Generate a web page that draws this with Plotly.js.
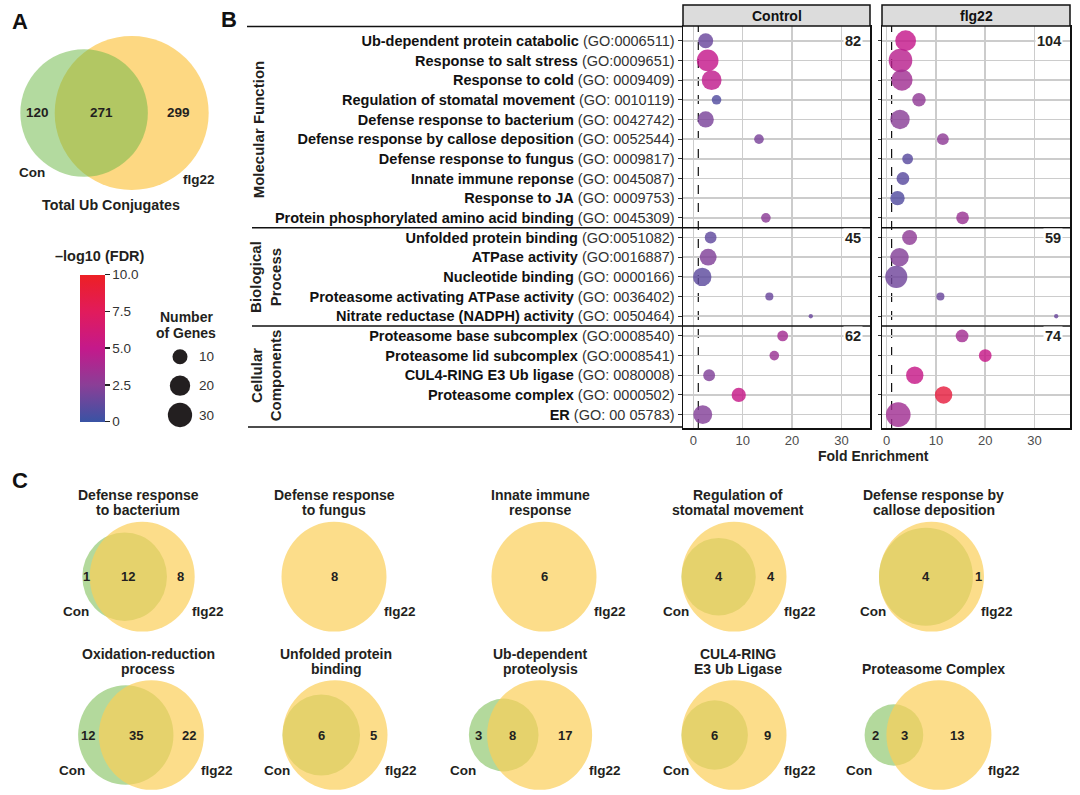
<!DOCTYPE html>
<html><head><meta charset="utf-8">
<script src="https://cdn.plot.ly/plotly-3.0.1.min.js"></script>
<style>html,body{margin:0;padding:0;background:#fff}#chart{width:1080px;height:795px}</style>
</head><body><div id="chart"></div>
<script>
// ================= DATA =================
// Panel B: GO terms (top to bottom)
const goNames = [
  'Ub-dependent protein catabolic','Response to salt stress','Response to cold',
  'Regulation of stomatal movement','Defense response to bacterium',
  'Defense response by callose deposition','Defense response to fungus',
  'Innate immune reponse','Response to JA','Protein phosphorylated amino acid binding',
  'Unfolded protein binding','ATPase activity','Nucleotide binding',
  'Proteasome activating ATPase activity','Nitrate reductase (NADPH) activity',
  'Proteasome base subcomplex','Proteasome lid subcomplex','CUL4-RING E3 Ub ligase',
  'Proteasome complex','ER'];
const goIds = [
  '(GO:0006511)','(GO:0009651)','(GO: 0009409)','(GO: 0010119)','(GO: 0042742)',
  '(GO: 0052544)','(GO: 0009817)','(GO: 0045087)','(GO: 0009753)','(GO: 0045309)',
  '(GO:0051082)','(GO:0016887)','(GO: 0000166)','(GO: 0036402)','(GO: 0050464)',
  '(GO:0008540)','(GO:0008541)','(GO: 0080008)','(GO: 0000502)','(GO: 00 05783)'];
const groupNames = ['Molecular Function','Biological<br>Process','Cellular<br>Components'];
const groupSizes = [10,5,5];
const panelNames = ['Control','flg22'];
// Control
const ctrlFold  = [2.5,2.9,3.7,4.7,2.5,13.3,null,null,null,14.7,3.5,3.0,1.8,15.4,23.8,18.1,16.4,3.2,9.2,1.9];
const ctrlGenes = [10,23,19,4,12,4,null,null,null,4,6,13,16,3,2,5,4,6,9,17];
const ctrlFDR   = [1.5,5,4.8,0.8,2,2,null,null,null,2.6,1.2,2.2,1.1,1.5,1.5,3.6,3.2,2.2,5.2,2.3];
const ctrlTotals = [82,45,62];
// flg22
const flgFold  = [3.85,2.8,3.1,6.55,2.7,11.4,4.25,3.3,2.2,15.4,4.65,2.6,1.95,10.9,34.4,15.3,20,5.7,11.55,2.35];
const flgGenes = [21,28,22,8,18,6,5,7,9,7,10,16,24,3,2,7,7,14,14,31];
const flgFDR   = [5,4.5,3.5,2.8,2.5,2.7,1,1,0.8,3.2,2.7,2.3,1.7,1.5,1.5,3.6,5.2,5.2,8.8,3.5];
const flgTotals = [104,59,74];
const foldThreshold = 1;
const foldTicks = [0,10,20,30];
const fdrTicks = [0,2.5,5,7.5,10];
const fdrTickText = ['0','2.5','5.0','7.5','10.0'];
const geneLegend = [10,20,30];

// Panel A
const vennATitle = 'Total Ub Conjugates';
const vennAConOnly = 120, vennABoth = 271, vennAFlgOnly = 299;

// Panel C
const vennTitles = [
  'Defense response\nto bacterium','Defense response\nto fungus','Innate immune\nresponse',
  'Regulation of\nstomatal movement','Defense response by\ncallose deposition',
  'Oxidation-reduction\nprocess','Unfolded protein\nbinding','Ub-dependent\nproteolysis',
  'CUL4-RING\nE3 Ub Ligase','Proteasome Complex'];
const vennConOnly = [1,0,0,0,0,12,0,3,0,2];
const vennBoth    = [12,0,0,4,4,35,6,8,6,3];
const vennFlgOnly = [8,8,6,4,1,22,5,17,9,13];

// ================= HELPERS / STYLE =================
const W = 1080, H = 795;
const px = x => x / W;
const py = y => 1 - y / H;
const FONT = 'Liberation Sans, Arial, Helvetica, sans-serif';
const INK = '#231f20';
const sizeFn = n => (n == null) ? 0 : 4.3 + 3.78 * Math.sqrt(Math.max(n - 2, 0));
const colorscale = [[0,'#3953a4'],[0.25,'#8a3f97'],[0.5,'#c4198b'],[0.75,'#e11b5c'],[1,'#ed2024']];

const annotations = [];
const shapes = [];
function txt(x, y, text, opt = {}) {
  annotations.push(Object.assign({
    xref:'paper', yref:'paper', x: px(x), y: py(y), text, showarrow:false,
    xanchor:'center', yanchor:'middle',
    font:{family:FONT, size:14, color:INK}
  }, opt));
}

// ================= PANEL B =================
const rowIdx = goNames.map((_, i) => i + 1);
const tickText = goNames.map((n, i) => '<b>' + n + '</b> <span style="color:#333">' + goIds[i] + '</span>');
const yRange = [20.68, 0.25];

const traces = [
  {type:'scatter', mode:'markers', x: ctrlFold, y: rowIdx, xaxis:'x', yaxis:'y',
   marker:{size: ctrlGenes.map(sizeFn), color: ctrlFDR, coloraxis:'coloraxis', opacity:0.82, line:{width:0}},
   hoverinfo:'skip', showlegend:false},
  {type:'scatter', mode:'markers', x: flgFold, y: rowIdx, xaxis:'x2', yaxis:'y2',
   marker:{size: flgGenes.map(sizeFn), color: flgFDR, coloraxis:'coloraxis', opacity:0.82, line:{width:0}},
   hoverinfo:'skip', showlegend:false}
];

const xCommon = {
  tickvals: foldTicks, ticks:'', 
  tickfont:{family:FONT, size:13, color:'#4d4d4d'},
  showgrid:true, gridcolor:'#cccccc', gridwidth:1.5, zeroline:false,
  showline:true, mirror:true, linecolor:'#111', linewidth:1.5, fixedrange:true, automargin:false
};
const yCommon = {
  range: yRange, tickvals: rowIdx, showgrid:true, gridcolor:'#cccccc', gridwidth:1.5,
  zeroline:false, showline:true, mirror:true, linecolor:'#111', linewidth:1.5,
  ticks:'outside', tickcolor:'#333', tickwidth:1, fixedrange:true, automargin:false
};

// dashed threshold lines (drawn between grid and markers)
[['x','y'],['x2','y2']].forEach(([xr, yr]) => {
  shapes.push({type:'line', xref:xr, yref:yr, x0:foldThreshold, x1:foldThreshold,
    y0:yRange[0], y1:yRange[1], line:{color:'#111', width:1.2, dash:'dash'}, layer:'below'});
});
// group separators
let cum = 0;
const bounds = [];
groupSizes.forEach((g, i) => {
  const start = cum + 0.5; cum += g; bounds.push([start, cum + 0.5]);
  if (i < groupSizes.length - 1) {
    shapes.push({type:'line', xref:'paper', yref:'y', x0:px(252), x1:px(870), y0:cum + 0.5, y1:cum + 0.5,
      line:{color:'#111', width:1.5}});
    shapes.push({type:'line', xref:'paper', yref:'y2', x0:px(882), x1:px(1070), y0:cum + 0.5, y1:cum + 0.5,
      line:{color:'#111', width:1.5}});
  }
});
shapes.push({type:'line', xref:'paper', yref:'paper', x0:px(247), x1:px(683), y0:py(26.5), y1:py(26.5), line:{color:'#111', width:1.5}});
shapes.push({type:'line', xref:'paper', yref:'paper', x0:px(248), x1:px(683), y0:py(427), y1:py(427), line:{color:'#111', width:1.5}});
// group labels
groupNames.forEach((g, i) => {
  const lines = g.split('<br>').length;
  const top = Math.max(bounds[i][0], yRange[1]);
  const bot = Math.min(bounds[i][1], yRange[0]);
  annotations.push({xref:'paper', yref:'y', x: px(258 + (lines - 1) * 8), y: (top + bot) / 2,
    text:'<b>' + g + '</b>', textangle:-90, showarrow:false, xanchor:'center', yanchor:'middle',
    font:{family:FONT, size:15, color:INK}});
});
// strips
[[683,870],[882,1070]].forEach((s, k) => {
  shapes.push({type:'rect', xref:'paper', yref:'paper', x0:px(s[0]), x1:px(s[1]), y0:py(26), y1:py(5),
    fillcolor:'#dcdcdc', line:{color:'#111', width:1.5}});
  txt((s[0] + s[1]) / 2, 16, '<b>' + panelNames[k] + '</b>', {font:{family:FONT, size:14, color:'#111'}});
});
// totals
[ctrlTotals, flgTotals].forEach((tot, k) => {
  tot.forEach((t, i) => {
    annotations.push({xref:(k ? 'x2' : 'x') + ' domain', yref:k ? 'y2' : 'y', x:0.965, y:bounds[i][0] + 0.5,
      text:'<b>' + t + '</b>', showarrow:false, xanchor:'right', yanchor:'middle', bgcolor:'#ffffff', borderpad:1,
      font:{family:FONT, size:14.5, color:INK}});
  });
});
txt(873, 456, '<b>Fold Enrichment</b>');

// ================= LEGENDS =================
txt(100, 256, '<b>–log10 (FDR)</b>', {font:{family:FONT, size:14.5, color:INK}});
txt(186, 317, '<b>Number</b>');
txt(186, 333, '<b>of Genes</b>');
const legY = [356.7, 385.7, 415];
geneLegend.forEach((g, i) => {
  const r = sizeFn(g) / 2;
  shapes.push({type:'circle', xref:'paper', yref:'paper', x0:px(180 - r), x1:px(180 + r),
    y0:py(legY[i] + r), y1:py(legY[i] - r), fillcolor:INK, line:{width:0}});
  txt(197, legY[i], String(g), {xanchor:'left', font:{family:FONT, size:13.5, color:'#333'}});
});

// ================= VENN HELPERS =================
function lensArea(r1, r2, d) {
  if (d >= r1 + r2) return 0;
  if (d <= Math.abs(r1 - r2)) return Math.PI * Math.min(r1, r2) ** 2;
  const a = r1 * r1 * Math.acos((d * d + r1 * r1 - r2 * r2) / (2 * d * r1));
  const b = r2 * r2 * Math.acos((d * d + r2 * r2 - r1 * r1) / (2 * d * r2));
  const c = 0.5 * Math.sqrt((-d + r1 + r2) * (d + r1 - r2) * (d - r1 + r2) * (d + r1 + r2));
  return a + b - c;
}
function solveD(r1, r2, target) {
  let lo = Math.abs(r1 - r2), hi = r1 + r2;
  for (let i = 0; i < 80; i++) { const m = (lo + hi) / 2; if (lensArea(r1, r2, m) > target) lo = m; else hi = m; }
  return (lo + hi) / 2;
}
function drawVenn(conOnly, both, flgOnly, cx, cy, rMax, sy, style) {
  const nCon = conOnly + both, nFlg = flgOnly + both;
  const k = Math.PI * rMax * rMax / Math.max(nCon, nFlg);
  const rCon = nCon > 0 ? Math.sqrt(nCon * k / Math.PI) : 0;
  const rFlg = Math.sqrt(nFlg * k / Math.PI);
  let d = 0;
  if (nCon > 0) d = (conOnly === 0) ? rFlg - rCon : solveD(rCon, rFlg, both * k);
  const left = nCon > 0 ? Math.min(-d - rCon, -rFlg) : -rFlg;
  const right = nCon > 0 ? Math.max(-d + rCon, rFlg) : rFlg;
  const off = cx - (left + right) / 2;
  const xF = off, xC = off - d;
  const circ = (x, r, fill) => shapes.push({type:'circle', xref:'paper', yref:'paper',
    x0:px(x - r), x1:px(x + r), y0:py(cy + r * sy), y1:py(cy - r * sy), fillcolor:fill, line:{width:0}});
  if (style.conFirst) { if (nCon > 0) circ(xC, rCon, style.conFill); circ(xF, rFlg, style.flgFill); }
  else { circ(xF, rFlg, style.flgFill); if (nCon > 0) circ(xC, rCon, style.conFill); }
  const nf = {family:FONT, size:style.numSize, color:INK};
  if (nCon === 0) {
    txt(xF, cy, '<b>' + flgOnly + '</b>', {font:nf});
  } else {
    if (conOnly > 0) txt(((xC - rCon) + (xF - rFlg)) / 2, cy, '<b>' + conOnly + '</b>', {font:nf});
    const bx = conOnly > 0 ? ((xF - rFlg) + (xC + rCon)) / 2 : xC;
    txt(bx, cy, '<b>' + both + '</b>', {font:nf});
    if (flgOnly > 0) txt(((xC + rCon) + (xF + rFlg)) / 2, cy, '<b>' + flgOnly + '</b>', {font:nf});
    txt(off + left + style.conLabDx, cy + style.conLabDy, '<b>Con</b>', {xanchor:'right', font:{family:FONT, size:13.5, color:INK}});
  }
  txt(off + right - style.flgLabDx, cy + style.flgLabDy, '<b>flg22</b>', {xanchor:'left', font:{family:FONT, size:13.5, color:INK}});
}

// ================= PANEL A =================
drawVenn(vennAConOnly, vennABoth, vennAFlgOnly, 114.5, 113, 77, 1,
  {conFirst:false, flgFill:'#fdd882', conFill:'rgba(110,185,70,0.52)', numSize:13.5,
   conLabDx:27, conLabDy:60, flgLabDx:28, flgLabDy:67});
txt(111, 205, '<b>' + vennATitle + '</b>', {font:{family:FONT, size:14.3, color:INK}});

// ================= PANEL C =================
const vennCx = [138.5,334,544,734,931.5,141,335,530.5,734,928];
const titleCx = [138,334,540,737.5,933.5,148,336,540,737.5,933];
const rowCy = [576.7, 735];
const rowTitleY = [509.5, 668.5];
vennTitles.forEach((t, i) => {
  const row = Math.floor(i / 5);
  drawVenn(vennConOnly[i], vennBoth[i], vennFlgOnly[i], vennCx[i], rowCy[row], 52.5, 1.045,
    {conFirst:true, conFill:'#b3d99c', flgFill:'rgba(251,207,88,0.7)', numSize:13,
     conLabDx:9, conLabDy:35, flgLabDx:5, flgLabDy:35});
  const lines = t.split('\n');
  lines.forEach((ln, j) => {
    txt(titleCx[i], rowTitleY[row] - (lines.length - 1 - j) * 14.5, '<b>' + ln + '</b>');
  });
});

// panel letters
txt(20, 22, '<b>A</b>', {font:{family:FONT, size:22, color:'#111'}});
txt(229, 20, '<b>B</b>', {font:{family:FONT, size:22, color:'#111'}});
txt(20, 480, '<b>C</b>', {font:{family:FONT, size:22, color:'#111'}});

// ================= LAYOUT =================
const layout = {
  width:W, height:H, margin:{l:0,r:0,t:0,b:0}, paper_bgcolor:'#fff', plot_bgcolor:'#fff',
  showlegend:false, font:{family:FONT, color:INK},
  xaxis: Object.assign({}, xCommon, {domain:[px(683), px(870)], range:[-2.1, 35.8], anchor:'y'}),
  xaxis2: Object.assign({}, xCommon, {domain:[px(882), px(1070)], range:[-0.95, 37.2], anchor:'y2'}),
  yaxis: Object.assign({}, yCommon, {domain:[py(428), py(26)], anchor:'x', ticktext: tickText, ticklen:4,
    tickfont:{family:FONT, size:14.5, color:'#111'}}),
  yaxis2: Object.assign({}, yCommon, {domain:[py(428), py(26)], anchor:'x2', showticklabels:false, ticklen:3}),
  coloraxis: {cmin:0, cmax:10, colorscale: colorscale,
    colorbar:{x:px(80), xanchor:'left', y:py(421.7), yanchor:'bottom', len:146.7, lenmode:'pixels',
      thickness:25, thicknessmode:'pixels', xpad:0, ypad:0, outlinewidth:0,
      ticks:'outside', ticklen:5, tickwidth:1.5, tickcolor:'#222',
      tickvals: fdrTicks, ticktext: fdrTickText, tickfont:{family:FONT, size:13.5, color:'#333'},
      title:{text:''}}},
  shapes, annotations
};
Plotly.newPlot('chart', traces, layout, {staticPlot:true, displayModeBar:false});
</script></body></html>
